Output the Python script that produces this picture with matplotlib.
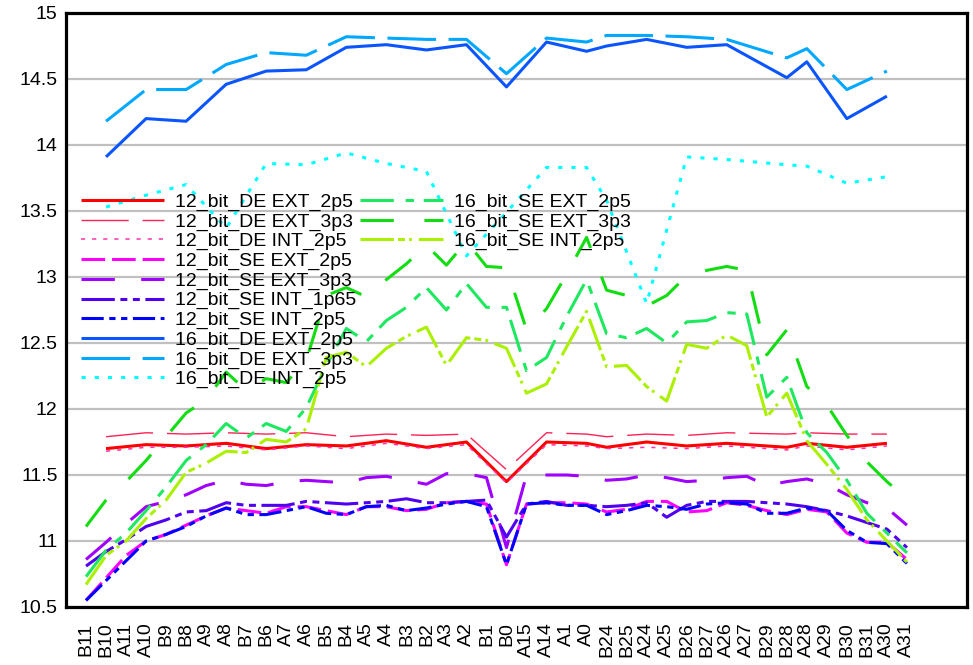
import matplotlib
matplotlib.use('Agg')
import matplotlib.pyplot as plt

plt.rcParams['font.family'] = ['Liberation Sans', 'DejaVu Sans']
plt.rcParams['lines.scale_dashes'] = False

# pin names along the x axis
pins = ['B11', 'B10', 'A11', 'A10', 'B9', 'B8', 'A9', 'A8', 'B7', 'B6', 'A7', 'A6',
        'B5', 'B4', 'A5', 'A4', 'B3', 'B2', 'A3', 'A2', 'B1', 'B0', 'A15', 'A14',
        'A1', 'A0', 'B24', 'B25', 'A24', 'A25', 'B26', 'B27', 'A26', 'A27', 'B29',
        'B28', 'A28', 'A29', 'B30', 'B31', 'A30', 'A31']

# differential channels only exist on some of the pins
de_pos = [1, 3, 5, 7, 9, 11, 13, 15, 17, 19, 21, 23, 25, 26, 28, 30, 32, 35, 36, 38, 40]
se_pos = list(range(len(pins)))

de12_ext_2p5 = [11.70, 11.73, 11.72, 11.74, 11.70, 11.73, 11.72, 11.76, 11.71, 11.75, 11.45,
                11.75, 11.74, 11.71, 11.75, 11.72, 11.74, 11.71, 11.74, 11.71, 11.74]
de12_ext_3p3 = [11.79, 11.82, 11.81, 11.82, 11.81, 11.82, 11.79, 11.81, 11.80, 11.81, 11.54,
                11.82, 11.81, 11.79, 11.81, 11.80, 11.82, 11.81, 11.82, 11.81, 11.81]
de12_int_2p5 = [11.68, 11.71, 11.71, 11.72, 11.69, 11.72, 11.70, 11.74, 11.70, 11.73, 11.44,
                11.73, 11.72, 11.70, 11.71, 11.70, 11.72, 11.69, 11.72, 11.69, 11.72]

se12_ext_2p5 = [10.55, 10.72, 10.89, 11.00, 11.05, 11.12, 11.19, 11.25, 11.23, 11.21, 11.26,
                11.26, 11.23, 11.20, 11.26, 11.26, 11.23, 11.24, 11.29, 11.30, 11.28, 10.82,
                11.28, 11.29, 11.29, 11.28, 11.22, 11.24, 11.30, 11.30, 11.22, 11.23, 11.29,
                11.27, 11.23, 11.20, 11.24, 11.22, 11.06, 10.99, 10.99, 10.86]
se12_ext_3p3 = [10.86, 10.99, 11.13, 11.26, 11.30, 11.35, 11.42, 11.46, 11.43, 11.42, 11.45,
                11.46, 11.45, 11.44, 11.48, 11.49, 11.46, 11.43, 11.51, 11.51, 11.48, 10.95,
                11.50, 11.50, 11.50, 11.49, 11.46, 11.47, 11.50, 11.48, 11.45, 11.46, 11.48,
                11.49, 11.42, 11.45, 11.47, 11.43, 11.35, 11.29, 11.25, 11.12]
se12_int_1p65 = [10.81, 10.92, 11.01, 11.11, 11.16, 11.22, 11.23, 11.29, 11.27, 11.27, 11.27,
                 11.30, 11.29, 11.28, 11.29, 11.30, 11.32, 11.29, 11.29, 11.30, 11.31, 11.03,
                 11.28, 11.30, 11.27, 11.27, 11.26, 11.27, 11.29, 11.18, 11.27, 11.30, 11.30,
                 11.30, 11.29, 11.28, 11.26, 11.23, 11.19, 11.14, 11.09, 10.95]
se12_int_2p5 = [10.55, 10.70, 10.85, 11.00, 11.05, 11.11, 11.19, 11.25, 11.20, 11.20, 11.23,
                11.26, 11.21, 11.20, 11.26, 11.27, 11.23, 11.25, 11.28, 11.30, 11.26, 10.82,
                11.28, 11.29, 11.27, 11.27, 11.20, 11.23, 11.27, 11.26, 11.24, 11.28, 11.29,
                11.28, 11.21, 11.21, 11.25, 11.23, 11.08, 10.99, 10.98, 10.83]

de16_ext_2p5 = [13.91, 14.20, 14.18, 14.46, 14.56, 14.57, 14.74, 14.76, 14.72, 14.76, 14.44,
                14.78, 14.71, 14.75, 14.80, 14.74, 14.76, 14.51, 14.63, 14.20, 14.37]
de16_ext_3p3 = [14.18, 14.42, 14.42, 14.61, 14.70, 14.68, 14.82, 14.81, 14.80, 14.80, 14.54,
                14.81, 14.78, 14.83, 14.83, 14.82, 14.80, 14.66, 14.73, 14.42, 14.56]
de16_int_2p5 = [13.53, 13.62, 13.70, 13.37, 13.86, 13.85, 13.94, 13.86, 13.80, 13.16, 13.49,
                13.83, 13.83, 13.58, 12.80, 13.91, 13.89, 13.85, 13.84, 13.71, 13.76]

se16_ext_2p5 = [10.73, 10.93, 11.06, 11.23, 11.41, 11.61, 11.73, 11.89, 11.78, 11.89, 11.83,
                12.01, 12.33, 12.61, 12.51, 12.67, 12.77, 12.92, 12.75, 12.95, 12.77, 12.77,
                12.29, 12.39, 12.70, 12.98, 12.57, 12.54, 12.61, 12.50, 12.66, 12.67, 12.73,
                12.72, 12.09, 12.24, 11.82, 11.67, 11.46, 11.21, 11.06, 10.91]
se16_ext_3p3 = [11.11, 11.31, 11.45, 11.61, 11.79, 11.97, 12.07, 12.28, 12.14, 12.23, 12.20,
                12.37, 12.86, 12.92, 12.85, 12.98, 13.10, 13.24, 13.09, 13.27, 13.08, 13.07,
                12.60, 12.76, 13.02, 13.30, 12.90, 12.86, 12.78, 12.86, 13.01, 13.05, 13.08,
                13.05, 12.41, 12.60, 12.17, 12.03, 11.80, 11.60, 11.45, 11.32]
se16_int_2p5 = [10.67, 10.89, 11.00, 11.17, 11.31, 11.52, 11.59, 11.68, 11.67, 11.77, 11.75,
                11.85, 12.39, 12.43, 12.32, 12.46, 12.55, 12.62, 12.33, 12.54, 12.52, 12.46,
                12.12, 12.19, 12.47, 12.74, 12.32, 12.33, 12.17, 12.06, 12.49, 12.46, 12.56,
                12.48, 11.94, 12.12, 11.76, 11.58, 11.39, 11.16, 11.00, 10.84]

# label, x, y, colour, width, dash pattern (points)
series = [
    ('12_bit_DE EXT_2p5', de_pos, de12_ext_2p5, '#ff0000', 2.2, None),
    ('12_bit_DE EXT_3p3', de_pos, de12_ext_3p3, '#ff2255', 1.0, (34, 10)),
    ('12_bit_DE INT_2p5', de_pos, de12_int_2p5, '#ff33aa', 1.1, (3, 5)),
    ('12_bit_SE EXT_2p5', se_pos, se12_ext_2p5, '#ff00ff', 2.2, (17, 5)),
    ('12_bit_SE EXT_3p3', se_pos, se12_ext_3p3, '#a000ff', 2.2, (24, 19)),
    ('12_bit_SE INT_1p65', se_pos, se12_int_1p65, '#5000f0', 2.2, (24, 4, 5, 4, 5, 4)),
    ('12_bit_SE INT_2p5', se_pos, se12_int_2p5, '#0000ff', 2.2, (16, 4, 4.5, 4, 4.5, 4)),
    ('16_bit_DE EXT_2p5', de_pos, de16_ext_2p5, '#0a55ff', 2.2, None),
    ('16_bit_DE EXT_3p3', de_pos, de16_ext_3p3, '#00a8ff', 2.2, (35, 9)),
    ('16_bit_DE INT_2p5', de_pos, de16_int_2p5, '#00ffff', 2.2, (3, 6.5)),
    ('16_bit_SE EXT_2p5', se_pos, se16_ext_2p5, '#1ee860', 2.2, (24, 8.5, 6, 7)),
    ('16_bit_SE EXT_3p3', se_pos, se16_ext_3p3, '#11dd11', 2.2, (24, 22)),
    ('16_bit_SE INT_2p5', se_pos, se16_int_2p5, '#aaf000', 2.2, (24, 3, 5, 3, 2, 5)),
]

fig = plt.figure(figsize=(9.73, 6.65), dpi=100)
ax = fig.add_axes([66 / 973, 1 - 607 / 665, 901 / 973, 594 / 665])

handles = []
for label, xs, ys, color, lw, dashes in series:
    ln, = ax.plot(xs, ys, color=color, lw=lw, label=label,
                  solid_capstyle='butt', dash_capstyle='butt')
    if dashes:
        ln.set_dashes(dashes)
    handles.append(ln)

ax.set_xlim(-1, 44)
ax.set_ylim(10.5, 15)
ax.set_xticks(se_pos)
ax.set_xticklabels(pins, rotation=90, fontsize=14)
ax.set_xticks(range(4, 44, 5), minor=True)
ax.set_yticks([10.5 + 0.5 * i for i in range(10)])
ax.set_yticklabels(['10.5', '11', '11.5', '12', '12.5', '13', '13.5', '14', '14.5', '15'],
                   fontsize=14)
ax.tick_params(which='both', length=0)
ax.tick_params(axis='x', pad=11)
ax.tick_params(axis='y', pad=6)
ax.grid(False)
ax.xaxis.grid(True, which='minor', color='#c0c0c0', lw=1.6)
ax.yaxis.grid(True, which='major', color='#c0c0c0', lw=1.6)
ax.set_axisbelow(True)
for sp in ax.spines.values():
    sp.set_linewidth(2.3)
    sp.set_color('black')

leg_kw = dict(frameon=False, fontsize=14, handlelength=4.27, handletextpad=0.57,
              labelspacing=0.1, borderpad=0, borderaxespad=0, loc='upper left')
leg1 = ax.legend(handles=handles[:10], bbox_to_anchor=(0.0166, 0.697), **leg_kw)
ax.add_artist(leg1)
ax.legend(handles=handles[10:], bbox_to_anchor=(0.326, 0.697), **leg_kw)

fig.savefig('out.png', dpi=100)
